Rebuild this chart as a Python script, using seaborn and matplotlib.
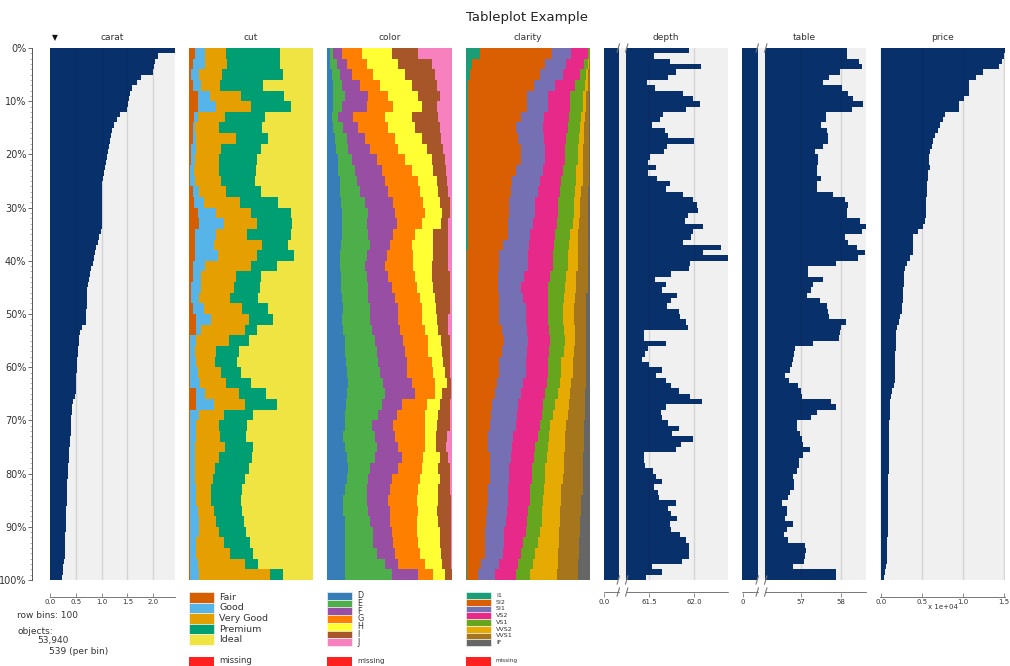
import numpy as np
import matplotlib.pyplot as plt
import seaborn as sns
from matplotlib.patches import Rectangle

sns.set_theme(style="white")
plt.rcParams['font.family'] = ['DejaVu Sans']

# ---- data: 100 row bins, sorted by carat (descending) ----
carat = [2.42, 2.10, 2.03, 2.01, 2.00, 1.77, 1.68, 1.59, 1.54, 1.52,
         1.51, 1.50, 1.35, 1.29, 1.24, 1.20, 1.18, 1.16, 1.14, 1.12,
         1.10, 1.08, 1.06, 1.04, 1.02, 1.01, 1.01, 1.01, 1.01, 1.01,
         1.01, 1.00, 1.00, 1.00, 0.99, 0.94, 0.92, 0.90, 0.88, 0.85,
         0.83, 0.80, 0.78, 0.76, 0.74, 0.72, 0.71, 0.71, 0.71, 0.70,
         0.70, 0.70, 0.62, 0.59, 0.57, 0.56, 0.55, 0.54, 0.53, 0.52,
         0.52, 0.51, 0.51, 0.50, 0.50, 0.48, 0.44, 0.43, 0.42, 0.41,
         0.41, 0.40, 0.40, 0.39, 0.38, 0.37, 0.37, 0.36, 0.35, 0.35,
         0.34, 0.33, 0.33, 0.32, 0.32, 0.32, 0.31, 0.31, 0.31, 0.31,
         0.31, 0.30, 0.30, 0.30, 0.30, 0.29, 0.28, 0.26, 0.25, 0.23]

depth = [61.95, 61.56, 61.73, 62.08, 61.80, 61.71, 61.48, 61.57, 61.88, 61.99,
         62.07, 61.91, 61.66, 61.62, 61.53, 61.68, 61.71, 62.00, 61.70, 61.67,
         61.51, 61.49, 61.58, 61.49, 61.59, 61.73, 61.69, 61.88, 61.99, 62.03,
         62.05, 61.93, 61.90, 62.10, 61.99, 61.97, 61.88, 62.30, 62.10, 62.39,
         61.96, 61.94, 61.74, 61.57, 61.69, 61.64, 61.81, 61.75, 61.70, 61.83,
         61.84, 61.91, 61.93, 61.44, 61.44, 61.69, 61.49, 61.46, 61.42, 61.50,
         61.64, 61.58, 61.69, 61.75, 61.83, 61.96, 62.09, 61.69, 61.63, 61.64,
         61.71, 61.83, 61.76, 61.99, 61.86, 61.80, 61.44, 61.45, 61.46, 61.55,
         61.58, 61.64, 61.56, 61.60, 61.61, 61.80, 61.71, 61.74, 61.81, 61.73,
         61.75, 61.84, 61.91, 61.94, 61.95, 61.94, 61.87, 61.53, 61.64, 61.47]

table = [58.16, 58.16, 58.46, 58.52, 57.98, 57.71, 57.56, 58.02, 58.18, 58.31,
         58.54, 58.27, 57.63, 57.63, 57.49, 57.64, 57.68, 57.67, 57.56, 57.35,
         57.43, 57.43, 57.39, 57.41, 57.49, 57.39, 57.39, 57.81, 58.11, 58.18,
         58.16, 58.16, 58.48, 58.64, 58.52, 58.10, 58.18, 58.39, 58.60, 58.42,
         57.88, 57.18, 57.18, 57.54, 57.31, 57.24, 57.16, 57.48, 57.64, 57.68,
         57.71, 58.13, 57.99, 57.98, 57.96, 57.31, 56.85, 56.83, 56.79, 56.77,
         56.73, 56.60, 56.71, 56.93, 57.00, 57.02, 57.74, 57.88, 57.41, 57.24,
         56.89, 56.91, 56.98, 57.02, 57.06, 57.23, 57.04, 56.96, 56.96, 56.89,
         56.81, 56.83, 56.83, 56.73, 56.68, 56.52, 56.64, 56.64, 56.60, 56.79,
         56.64, 56.58, 56.68, 57.10, 57.13, 57.11, 57.08, 56.79, 57.88, 57.88]

price = [15244, 14960, 14756, 14431, 12400, 11585, 10770, 10770, 10700, 10160,
         9550, 9470, 7800, 7520, 7200, 6900, 6630, 6380, 6220, 6020,
         5890, 5810, 5975, 5700, 5690, 5640, 5600, 5560, 5520, 5500,
         5480, 5440, 5380, 5100, 4470, 3950, 3940, 3930, 3900, 3580,
         3170, 2970, 2850, 2800, 2760, 2720, 2680, 2640, 2600, 2560,
         2320, 2150, 1910, 1840, 1820, 1800, 1780, 1760, 1740, 1720,
         1700, 1680, 1660, 1640, 1340, 1220, 1100, 1080, 1060, 1040,
         1020, 1000, 990, 980, 970, 960, 950, 940, 935, 925,
         915, 905, 895, 885, 875, 865, 855, 845, 835, 825,
         813, 800, 790, 780, 770, 740, 700, 610, 520, 400]

# categorical columns: cumulative % at the right edge of each level,
# one value per pair of row bins (50 pairs)
cut_levels = ['Fair', 'Good', 'Very Good', 'Premium', 'Ideal']
cut_colors = ['#D55E00', '#56B4E9', '#E69F00', '#009E73', '#F0E442']
cut_fair = [5, 3, 2, 3, 7, 7, 4, 3, 3, 2, 2, 1, 1, 3, 4, 7, 8, 5, 5, 5, 3, 3, 2, 2, 3,
            6, 6, 1, 1, 1, 1, 1, 6, 6, 1, 1, 1, 1, 1, 1, 1, 1, 1, 1, 1, 1, 1, 1, 1, 1]
cut_good = [13, 13, 8, 10, 17, 22, 7, 5, 6, 6, 5, 4, 5, 8, 12, 22, 28, 22, 20, 23, 13, 10, 10, 8, 12,
            18, 10, 6, 5, 6, 7, 9, 13, 20, 8, 6, 6, 5, 5, 5, 5, 6, 6, 7, 8, 8, 6, 6, 7, 8]
cut_vgood = [30, 31, 27, 25, 42, 50, 29, 24, 38, 26, 24, 24, 26, 30, 41, 50, 55, 47, 59, 55, 50, 38, 36, 33, 43,
             48, 45, 32, 22, 21, 26, 30, 40, 45, 28, 24, 25, 29, 24, 21, 19, 18, 18, 20, 22, 24, 28, 33, 45, 65]
cut_premium = [73, 73, 76, 60, 77, 82, 61, 59, 64, 58, 55, 54, 53, 58, 72, 82, 83, 82, 80, 85, 71, 58, 57, 56, 64,
               68, 55, 48, 40, 39, 42, 50, 62, 71, 52, 47, 46, 52, 51, 48, 45, 43, 42, 43, 44, 46, 49, 52, 56, 76]

color_levels = ['D', 'E', 'F', 'G', 'H', 'I', 'J']
color_colors = ['#377EB8', '#4DAF4A', '#984EA3', '#FF7F00', '#FFFF33', '#A65628', '#F781BF']
col_d = [2, 2, 4, 5, 5, 5, 4, 5, 6, 7, 9, 9, 10, 10, 11, 12, 12, 12, 11, 10, 10, 11, 11, 12, 13,
         12, 13, 14, 14, 15, 16, 17, 16, 15, 14, 14, 13, 14, 16, 17, 16, 14, 13, 13, 14, 14, 14, 14, 14, 14]
col_e = [5, 8, 10, 12, 14, 12, 9, 13, 16, 17, 20, 22, 24, 26, 30, 33, 32, 33, 34, 32, 30, 32, 33, 33, 34,
         34, 36, 38, 40, 41, 42, 45, 46, 44, 41, 36, 38, 40, 38, 34, 33, 32, 32, 33, 34, 37, 37, 40, 46, 52]
col_f = [12, 16, 20, 26, 33, 32, 21, 25, 30, 34, 40, 44, 46, 49, 53, 54, 56, 53, 50, 48, 46, 49, 52, 54, 57,
         57, 58, 61, 62, 64, 64, 68, 70, 60, 56, 53, 54, 57, 60, 57, 52, 50, 49, 50, 50, 52, 53, 54, 57, 73]
col_g = [28, 32, 37, 42, 49, 53, 46, 49, 54, 57, 62, 68, 73, 74, 77, 78, 76, 70, 68, 69, 69, 70, 72, 74, 76,
         76, 78, 81, 81, 84, 85, 86, 86, 80, 78, 78, 78, 78, 77, 76, 74, 73, 72, 73, 72, 72, 73, 74, 78, 85]
col_h = [52, 57, 62, 68, 73, 76, 68, 70, 76, 80, 84, 85, 88, 89, 90, 92, 91, 85, 85, 85, 84, 84, 85, 86, 87,
         88, 89, 91, 92, 93, 94, 96, 92, 90, 89, 88, 87, 87, 90, 89, 90, 89, 89, 88, 89, 90, 90, 91, 92, 94]
col_i = [73, 84, 86, 88, 90, 88, 89, 90, 91, 93, 94, 95, 96, 97, 98, 98, 97, 97, 97, 97, 97, 98, 98, 98, 98,
         97, 97, 98, 98, 98, 98, 99, 99, 98, 98, 98, 96, 95, 97, 98, 98, 98, 99, 99, 99, 99, 99, 99, 99, 100]

clarity_levels = ['I1', 'SI2', 'SI1', 'VS2', 'VS1', 'VVS2', 'VVS1', 'IF']
clarity_colors = ['#1B9E77', '#D95F02', '#7570B3', '#E7298A', '#66A61E', '#E6AB02', '#A6761D', '#666666']
cl_i1 = [11, 5, 3, 2, 2, 2, 2, 2, 2, 2, 2, 2, 2, 2, 2, 2, 2, 2, 2, 1, 1, 1, 1, 1, 1,
         1, 1, 1, 1, 1, 1, 1, 1, 1, 1, 1, 1, 1, 1, 1, 1, 1, 1, 1, 1, 1, 1, 1, 1, 1]
cl_si2 = [69, 64, 60, 55, 49, 49, 44, 40, 42, 44, 44, 40, 37, 36, 35, 35, 34, 34, 30, 27, 27, 26, 26, 27, 27,
          27, 29, 31, 29, 27, 27, 25, 23, 21, 20, 19, 18, 18, 19, 19, 19, 18, 18, 17, 16, 15, 15, 15, 12, 10]
cl_si1 = [85, 81, 78, 72, 66, 66, 63, 62, 63, 64, 64, 62, 60, 58, 56, 56, 54, 52, 51, 50, 50, 47, 44, 46, 48,
          48, 49, 50, 49, 48, 48, 46, 44, 42, 41, 40, 38, 37, 36, 35, 35, 34, 34, 33, 32, 31, 31, 30, 27, 23]
cl_vs2 = [98, 95, 92, 88, 84, 84, 83, 82, 81, 80, 80, 78, 77, 76, 74, 74, 73, 72, 71, 70, 70, 68, 66, 66, 66,
          66, 67, 68, 67, 66, 66, 65, 64, 62, 61, 60, 58, 56, 55, 53, 53, 52, 52, 50, 49, 48, 46, 44, 42, 40]
cl_vs1 = [100, 98, 97, 96, 94, 94, 93, 92, 91, 90, 90, 89, 89, 88, 87, 87, 86, 84, 83, 82, 82, 81, 80, 79, 78,
          78, 79, 80, 79, 77, 77, 76, 74, 72, 70, 68, 67, 66, 65, 64, 64, 63, 62, 61, 61, 60, 58, 56, 54, 52]
cl_vvs2 = [100, 99, 98, 98, 97, 97, 96, 95, 95, 94, 94, 94, 94, 93, 92, 92, 91, 90, 90, 90, 90, 89, 89, 88, 87,
           87, 88, 88, 87, 86, 86, 85, 84, 83, 82, 81, 80, 80, 79, 79, 78, 77, 77, 76, 76, 75, 75, 74, 74, 73]
cl_vvs1 = [100, 100, 100, 100, 99, 99, 99, 99, 99, 99, 99, 99, 99, 98, 98, 98, 98, 98, 98, 98, 98, 98, 98, 97, 97,
           97, 97, 97, 97, 97, 97, 97, 96, 96, 96, 95, 95, 95, 94, 94, 94, 94, 93, 93, 92, 92, 91, 91, 90, 90]

# ---- layout (pixel based) ----
W, H = 1010, 666
TOP, BOT = 48, 580
fig = plt.figure(figsize=(W / 100, H / 100), dpi=100)
navy = '#08306B'
bg = '#F0F0F0'
rows = np.arange(100) + 0.5
pairs = np.arange(0, 100, 2) + 1


def panel(x0, width=125):
    ax = fig.add_axes([x0 / W, 1 - BOT / H, width / W, (BOT - TOP) / H])
    for s in ax.spines.values():
        s.set_visible(False)
    return ax


def numeric_panel(ax, vals, xlim, ticks, labels, grid):
    ax.set_facecolor(bg)
    sns.barplot(x=vals, y=rows, orient='h', native_scale=True, width=1, color=navy,
                saturation=1, linewidth=0, errorbar=None, antialiased=False, ax=ax)
    for g in grid:
        ax.axvline(g, color='k', alpha=0.13, lw=1, zorder=3)
    ax.set_xlim(*xlim)
    ax.set_ylim(100, 0)
    ax.set_xlabel('')
    ax.set_ylabel('')
    ax.set_yticks([])
    ax.set_xticks(ticks)
    ax.set_xticklabels(labels)
    ax.spines['bottom'].set_visible(True)
    ax.spines['bottom'].set_position(('outward', 12))
    ax.spines['bottom'].set_color('#777777')
    ax.spines['bottom'].set_linewidth(0.7)
    ax.tick_params(axis='x', direction='in', length=3, width=0.6, color='#777777',
                   labelsize=5, pad=2, labelcolor='#333333', bottom=True)


def stack_panel(ax, cum_lists, colors):
    series = cum_lists + [[100] * len(pairs)]
    for vals, col in reversed(list(zip(series, colors))):
        sns.barplot(x=vals, y=pairs, orient='h', native_scale=True, width=1, color=col,
                    saturation=1, linewidth=0, errorbar=None, antialiased=False, ax=ax)
    ax.set_xlim(0, 100)
    ax.set_ylim(100, 0)
    ax.set_xlabel('')
    ax.set_ylabel('')
    ax.set_xticks([])
    ax.set_yticks([])


def add_break(ax, a, b):
    # gap between the stub and the main range, with // marks
    ax.axvspan(a, b, color=bg, zorder=2, lw=0)
    ax.spines['bottom'].set_visible(False)
    tr = ax.get_xaxis_transform()
    yb = -12 / (BOT - TOP)
    x0, x1 = ax.get_xlim()
    ax.plot([x0, a], [yb, yb], color='#777777', lw=0.7, transform=tr, clip_on=False)
    ax.plot([b, x1], [yb, yb], color='#777777', lw=0.7, transform=tr, clip_on=False)
    span = x1 - x0
    dx = span * 2.5 / 124
    for yc in (1.0, 0.0, yb):
        for xc in (a - dx * 0.3, b + dx * 0.3):
            ax.plot([xc - dx / 2, xc + dx / 2], [yc - 0.008, yc + 0.008], color='#777777',
                    lw=0.8, transform=tr, clip_on=False, zorder=5)


ax_carat = panel(50)
numeric_panel(ax_carat, carat, (0, 2.42), [0, 0.5, 1, 1.5, 2],
              ['0.0', '0.5', '1.0', '1.5', '2.0'], [0.5, 1, 1.5, 2])
ax_carat.spines['left'].set_visible(True)
ax_carat.spines['left'].set_position(('outward', 13))
ax_carat.spines['left'].set_color('#555555')
ax_carat.spines['left'].set_linewidth(0.7)
ax_carat.set_yticks(np.arange(0, 101, 10))
ax_carat.set_yticklabels([f'{p}%' for p in range(0, 101, 10)])
ax_carat.set_yticks(np.arange(0, 101, 1), minor=True)
ax_carat.tick_params(axis='y', which='major', left=True, length=3, width=0.6,
                     color='#555555', labelsize=7, pad=1, labelcolor='#333333')
ax_carat.tick_params(axis='y', which='minor', left=True, length=1.5, width=0.4, color='#777777')

ax_cut = panel(189, 124)
stack_panel(ax_cut, [cut_fair, cut_good, cut_vgood, cut_premium], cut_colors)

ax_color = panel(327)
stack_panel(ax_color, [col_d, col_e, col_f, col_g, col_h, col_i], color_colors)

ax_clarity = panel(466, 124)
stack_panel(ax_clarity, [cl_i1, cl_si2, cl_si1, cl_vs2, cl_vs1, cl_vvs2, cl_vvs1], clarity_colors)

ax_depth = panel(604, 124)
numeric_panel(ax_depth, depth, (61.0, 62.378), [61.0, 61.5, 62.0], ['0.0', '61.5', '62.0'], [61.5, 62.0])
add_break(ax_depth, 61.167, 61.244)

ax_table = panel(742, 124)
numeric_panel(ax_table, table, (55.525, 58.625), [55.55, 57, 58], ['0', '57', '58'], [57, 58])
add_break(ax_table, 55.925, 56.1)

ax_price = panel(880, 125)
numeric_panel(ax_price, price, (-120, 15120), [0, 5000, 10000, 15000],
              ['0.0', '0.5', '1.0', '1.5'], [5000, 10000, 15000])

# ---- texts ----
fig.text(527 / W, 1 - 18 / H, 'Tableplot Example', ha='center', va='center', fontsize=9.5, color='#222222')
for name, x0, w in [('carat', 50, 125), ('cut', 189, 124), ('color', 327, 125), ('clarity', 466, 124),
                    ('depth', 604, 124), ('table', 742, 124), ('price', 880, 125)]:
    fig.text((x0 + w / 2) / W, 1 - 38 / H, name, ha='center', va='center', fontsize=6.5, color='#333333')
fig.text(55 / W, 1 - 38 / H, '\u25bc', ha='center', va='center', fontsize=5.5, color='#111111')
fig.text(943 / W, 1 - 607 / H, 'x 1e+04', ha='center', va='center', fontsize=5, color='#333333')

lax = fig.add_axes([0, 0, 1, 1])
lax.set_xlim(0, W)
lax.set_ylim(H, 0)
lax.axis('off')
lax.patch.set_alpha(0)

for txt, x, y in [('row bins: 100', 17, 615), ('objects:', 17, 631), ('53,940', 37, 641), ('539 (per bin)', 49, 651)]:
    lax.text(x, y, txt, ha='left', va='center', fontsize=6.5, color='#333333')


def legend(x0, levels, colors, h, fs):
    y = 592
    for lev, col in zip(levels, colors):
        lax.add_patch(Rectangle((x0, y), 25, h, facecolor=col, edgecolor='white', lw=0.4, clip_on=False))
        lax.text(x0 + 30, y + h / 2, lev, ha='left', va='center', fontsize=fs, color='#333333')
        y += h
    lax.add_patch(Rectangle((x0, 657), 25, 10, facecolor='#FF2020', edgecolor='none', clip_on=False))
    lax.text(x0 + 30, 660.5, 'missing', ha='left', va='center', fontsize=fs * 0.9, color='#333333')


legend(189, cut_levels, cut_colors, 10.6, 6.8)
legend(327, color_levels, color_colors, 7.7, 5.8)
legend(466, clarity_levels, clarity_colors, 6.75, 4.6)

fig.savefig('out.png', dpi=100)
